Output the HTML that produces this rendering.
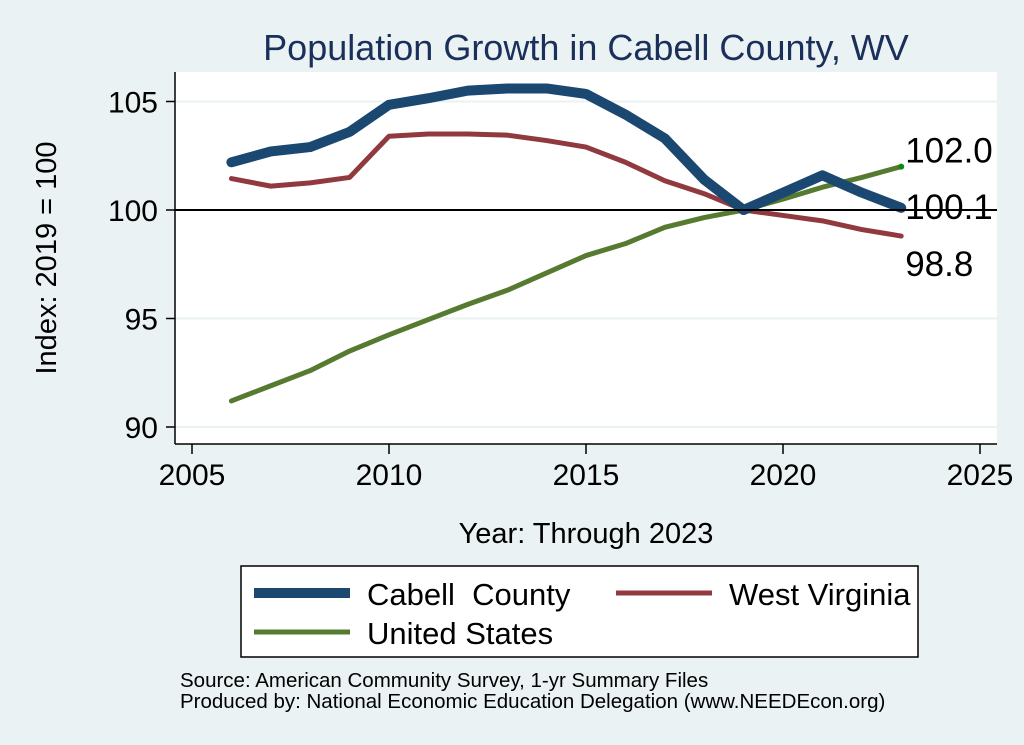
<!DOCTYPE html>
<html><head><meta charset="utf-8"><style>
body{margin:0;background:#eaf2f3;}
svg{display:block;font-family:"Liberation Sans",sans-serif;}
</style></head><body>
<svg id="c" width="1024" height="745" viewBox="0 0 1024 745">
<rect x="0" y="0" width="1024" height="745" fill="#eaf2f3"/>
<text x="586" y="60" font-size="36" fill="#1a2f5a" text-anchor="middle">Population Growth in Cabell County, WV</text>
<rect x="175" y="72" width="822" height="372" fill="#fff"/>
<g id="grid"></g>
<g id="series"></g>
<g id="axes"></g>
<text x="56" y="258" font-size="29" text-anchor="middle" transform="rotate(-90 56 258)">Index: 2019 = 100</text>
<text x="586" y="543" font-size="29" text-anchor="middle">Year: Through 2023</text>
<g>
<rect x="241" y="566" width="677" height="91" fill="#fff" stroke="#000" stroke-width="1.5"/>
<line x1="254" y1="593" x2="350" y2="593" stroke="#1a4870" stroke-width="10"/>
<text x="367" y="605" font-size="31" style="white-space:pre">Cabell  County</text>
<line x1="616" y1="593" x2="712" y2="593" stroke="#903a40" stroke-width="5"/>
<text x="729" y="605" font-size="31">West Virginia</text>
<line x1="254" y1="632" x2="350" y2="632" stroke="#567a30" stroke-width="5"/>
<text x="367" y="644" font-size="31">United States</text>
</g>
<text x="180" y="687" font-size="20.5">Source: American Community Survey, 1-yr Summary Files</text>
<text x="180" y="708" font-size="20.5">Produced by: National Economic Education Delegation (www.NEEDEcon.org)</text>
</svg>
<script>
const years=[2006,2007,2008,2009,2010,2011,2012,2013,2014,2015,2016,2017,2018,2019,2020,2021,2022,2023];
const cabell=[102.2,102.7,102.9,103.6,104.85,105.15,105.5,105.6,105.6,105.35,104.4,103.3,101.4,100,100.8,101.6,100.8,100.1];
const wv=[101.45,101.1,101.25,101.5,103.4,103.5,103.5,103.45,103.2,102.9,102.2,101.35,100.75,100,99.75,99.5,99.1,98.8];
const us=[91.2,91.9,92.6,93.5,94.25,94.95,95.65,96.3,97.1,97.9,98.45,99.2,99.65,100,100.5,101.05,101.5,102.0];
const xTicks=[2005,2010,2015,2020,2025];
const yTicks=[90,95,100,105];
const endLabels=["100.1","98.8","102.0"];
const NS="http://www.w3.org/2000/svg";
const X=v=>192+(v-2005)*(980-192)/20;
const Y=v=>210-(v-100)*21.7;
function mk(t,a,p){const e=document.createElementNS(NS,t);for(const k in a)e.setAttribute(k,a[k]);p.appendChild(e);return e;}
const grid=document.getElementById('grid'),axes=document.getElementById('axes'),ser=document.getElementById('series');
yTicks.forEach(v=>{
 const g=mk('line',{x1:175,x2:997,y1:Y(v),y2:Y(v),stroke:'#eaf2f3','stroke-width':2},grid);
 
 
 const t=mk('line',{x1:166,x2:175,y1:Y(v),y2:Y(v),stroke:'#000','stroke-width':1.5},axes);
 
 
 const l=mk('text',{x:158,y:Y(v)+11,'font-size':30,'text-anchor':'end'},axes);l.textContent=v;
 
 
});
xTicks.forEach(v=>{
 const t=mk('line',{x1:X(v),x2:X(v),y1:444,y2:454,stroke:'#000','stroke-width':1.5},axes);
 
 
 const l=mk('text',{x:X(v),y:485,'font-size':30,'text-anchor':'middle'},axes);l.textContent=v;
 
 
});
let a=mk('line',{x1:175,x2:175,y1:72,y2:444,stroke:'#000','stroke-width':1.5},axes);


a=mk('line',{x1:175,x2:997,y1:444,y2:444,stroke:'#000','stroke-width':1.5},axes);


function line(vals,col,w,name){
 const p=mk('polyline',{points:vals.map((v,i)=>X(years[i])+','+Y(v)).join(' '),fill:'none',stroke:col,'stroke-width':w,'stroke-linejoin':'round','stroke-linecap':'round'},ser);
 
 
}
line(us,'#567a30',5,'line-united-states');
line(wv,'#903a40',5,'line-west-virginia');
line(cabell,'#1a4870',10,'line-cabell-county');
let d=mk('circle',{cx:X(years[17]),cy:Y(us[17]),r:3,fill:'#0a8a0a'},ser);


const ref=mk('line',{x1:175,x2:997,y1:Y(100),y2:Y(100),stroke:'#000','stroke-width':2},ser);


const lx=X(2023)+4;
[[cabell[17],endLabels[0],11,'end-label-cabell'],[wv[17],endLabels[1],40,'end-label-wv'],[us[17],endLabels[2],-4,'end-label-us']].forEach(([v,s,dy,n])=>{
 const t=mk('text',{x:lx,y:Y(v)+dy,'font-size':35},ser);t.textContent=s;
 
 
});
</script>
</body></html>
